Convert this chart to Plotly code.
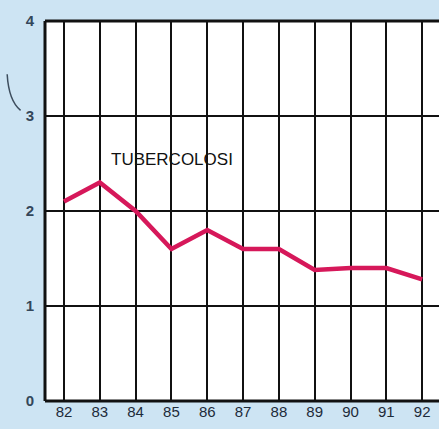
import plotly.graph_objects as go

anni = [82, 83, 84, 85, 86, 87, 88, 89, 90, 91, 92]
tubercolosi = [2.1, 2.3, 2.0, 1.6, 1.8, 1.6, 1.6, 1.38, 1.4, 1.4, 1.28]
y_ticks = [0, 1, 2, 3, 4]

BG = "#cde4f3"
LINEA = "#d6185a"
FONT = "Liberation Sans, Arial"

fig = go.Figure()
fig.add_trace(go.Scatter(x=anni, y=tubercolosi, mode="lines",
                         line=dict(color=LINEA, width=4.5), showlegend=False))

fig.add_annotation(x=85.02, y=2.54, text="TUBERCOLOSI", showarrow=False,
                   font=dict(family=FONT, size=17, color="#111111"))

# bordo del riquadro (sinistra, alto, basso)
for x0, y0, x1, y1 in [(0, 0, 0, 1), (0, 1, 1, 1), (0, 0, 1, 0)]:
    fig.add_shape(type="line", xref="x domain", yref="y domain",
                  x0=x0, y0=y0, x1=x1, y1=y1, line=dict(color="#111111", width=3))

# piccolo segno curvo a sinistra
fig.add_shape(type="path", xref="paper", yref="paper",
              path="M -0.096 0.86 Q -0.092 0.79 -0.062 0.765",
              line=dict(color="#3d4d5d", width=1.5))

fig.update_xaxes(range=[81.47, 92.47], tickvals=anni, ticktext=[str(a) for a in anni],
                 showgrid=True, gridcolor="#111111", gridwidth=2, zeroline=False,
                 showline=False, ticks="",
                 tickfont=dict(family=FONT, size=15, color="#1d2b3a"))
fig.update_yaxes(range=[0, 4], tickvals=y_ticks, showgrid=True, gridcolor="#111111",
                 gridwidth=1.5, zeroline=False, showline=False, ticks="",
                 ticklabelstandoff=10,
                 tickfont=dict(family=FONT, size=15, color="#34475a", weight="bold"))

fig.update_layout(width=439, height=429, margin=dict(l=45, r=0, t=21, b=28),
                  paper_bgcolor=BG, plot_bgcolor="white")

fig.write_html("out.html", config={"displayModeBar": False},
               post_script="document.body.style.margin='0';document.body.style.background='%s';" % BG)
